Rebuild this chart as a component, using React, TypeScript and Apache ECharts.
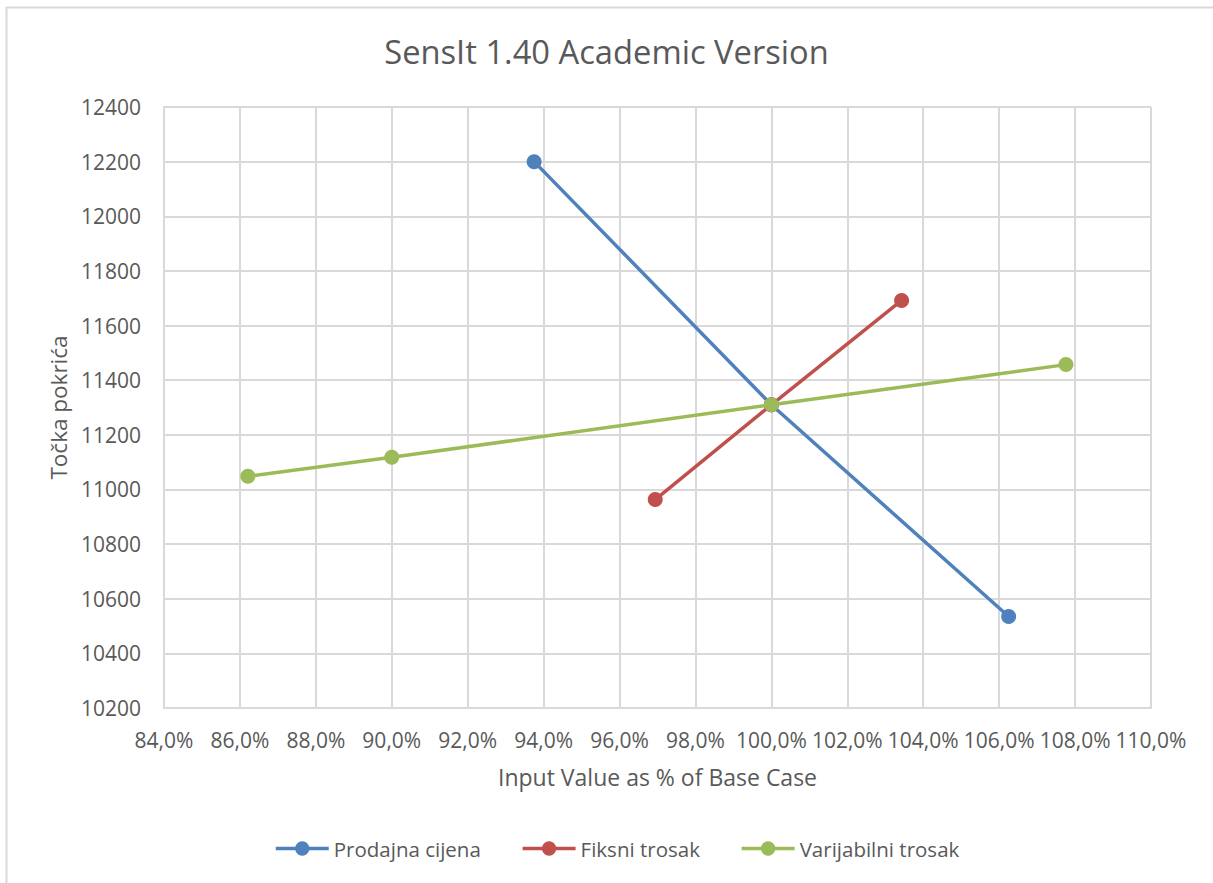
import React, { useEffect, useRef } from "react";
import * as echarts from "echarts";

const titleText = "SensIt 1.40 Academic Version";
const xAxisName = "Input Value as % of Base Case";
const yAxisName = "Točka pokrića";

const seriesNames = ["Prodajna cijena", "Fiksni trosak", "Varijabilni trosak"];
const seriesColors = ["#4F81BD", "#C0504D", "#9BBB59"];

const prodajnaX = [93.75, 100, 106.25];
const prodajnaY = [12200, 11310, 10535];
const fiksniX = [96.94, 100, 103.43];
const fiksniY = [10963, 11310, 11692];
const varijabilniX = [86.21, 90, 100, 107.76];
const varijabilniY = [11048, 11118, 11310, 11457];

const xMin = 84;
const xMax = 110;
const xInterval = 2;
const yMin = 10200;
const yMax = 12400;
const yInterval = 200;

const FONT = "'Open Sans', sans-serif";
const TEXT = "#595959";
const GRID = "#d9d9d9";

export default function App() {
  const ref = useRef<HTMLDivElement>(null);
  useEffect(() => {
    if (!ref.current) return;
    const chart = echarts.init(ref.current, null, { renderer: "svg" });
    const xs = [prodajnaX, fiksniX, varijabilniX];
    const ys = [prodajnaY, fiksniY, varijabilniY];
    const series = seriesNames.map((name, i) => ({
      name,
      type: "line",
      data: xs[i].map((x, j) => [x, ys[i][j]]),
      symbol: "circle",
      symbolSize: 15,
      lineStyle: { color: seriesColors[i], width: 3.5 },
      itemStyle: { color: seriesColors[i] },
      color: seriesColors[i],
      z: 3 + i,
    }));
    chart.setOption({
      animation: false,
      backgroundColor: "#ffffff",
      textStyle: { fontFamily: FONT },
      title: {
        text: titleText,
        left: "center",
        top: 30,
        textStyle: { fontFamily: FONT, fontSize: 32.7, fontWeight: "normal", color: TEXT },
      },
      graphic: [
        {
          type: "rect",
          shape: { x: 6.5, y: 7.5, width: 1230, height: 900 },
          style: { fill: "none", stroke: GRID, lineWidth: 2 },
          silent: true,
        },
      ],
      grid: { left: 164, right: 62, top: 107, bottom: 175, containLabel: false },
      legend: {
        left: 274,
        top: 838,
        padding: 0,
        itemWidth: 53,
        itemHeight: 18,
        itemGap: 40,
        lineStyle: { width: 3.5 },
        textStyle: { fontFamily: FONT, fontSize: 20.5, color: TEXT },
        data: seriesNames,
      },
      xAxis: {
        type: "value",
        min: xMin,
        max: xMax,
        interval: xInterval,
        name: xAxisName,
        nameLocation: "middle",
        nameGap: 57,
        nameTextStyle: { fontFamily: FONT, fontSize: 23, color: TEXT },
        axisLine: { show: true, lineStyle: { color: GRID, width: 2 } },
        axisTick: { show: false },
        splitLine: { show: true, lineStyle: { color: GRID, width: 2 } },
        axisLabel: {
          fontFamily: FONT,
          fontSize: 21,
          color: TEXT,
          margin: 21,
          formatter: (v: number) => v.toFixed(1).replace(".", ",") + "%",
        },
      },
      yAxis: {
        type: "value",
        min: yMin,
        max: yMax,
        interval: yInterval,
        name: yAxisName,
        nameLocation: "middle",
        nameGap: 93,
        nameTextStyle: { fontFamily: FONT, fontSize: 22.5, color: TEXT },
        axisLine: { show: true, lineStyle: { color: GRID, width: 2 } },
        axisTick: { show: false },
        splitLine: { show: true, lineStyle: { color: GRID, width: 2 } },
        axisLabel: {
          fontFamily: FONT,
          fontSize: 21,
          color: TEXT,
          margin: 23,
          formatter: (v: number) => String(v),
        },
      },
      series,
    });
    return () => chart.dispose();
  }, []);
  return (
    <div
      ref={ref}
      style={{ position: "fixed", left: 0, top: 0, width: 1213, height: 883, background: "#fff" }}
    />
  );
}
